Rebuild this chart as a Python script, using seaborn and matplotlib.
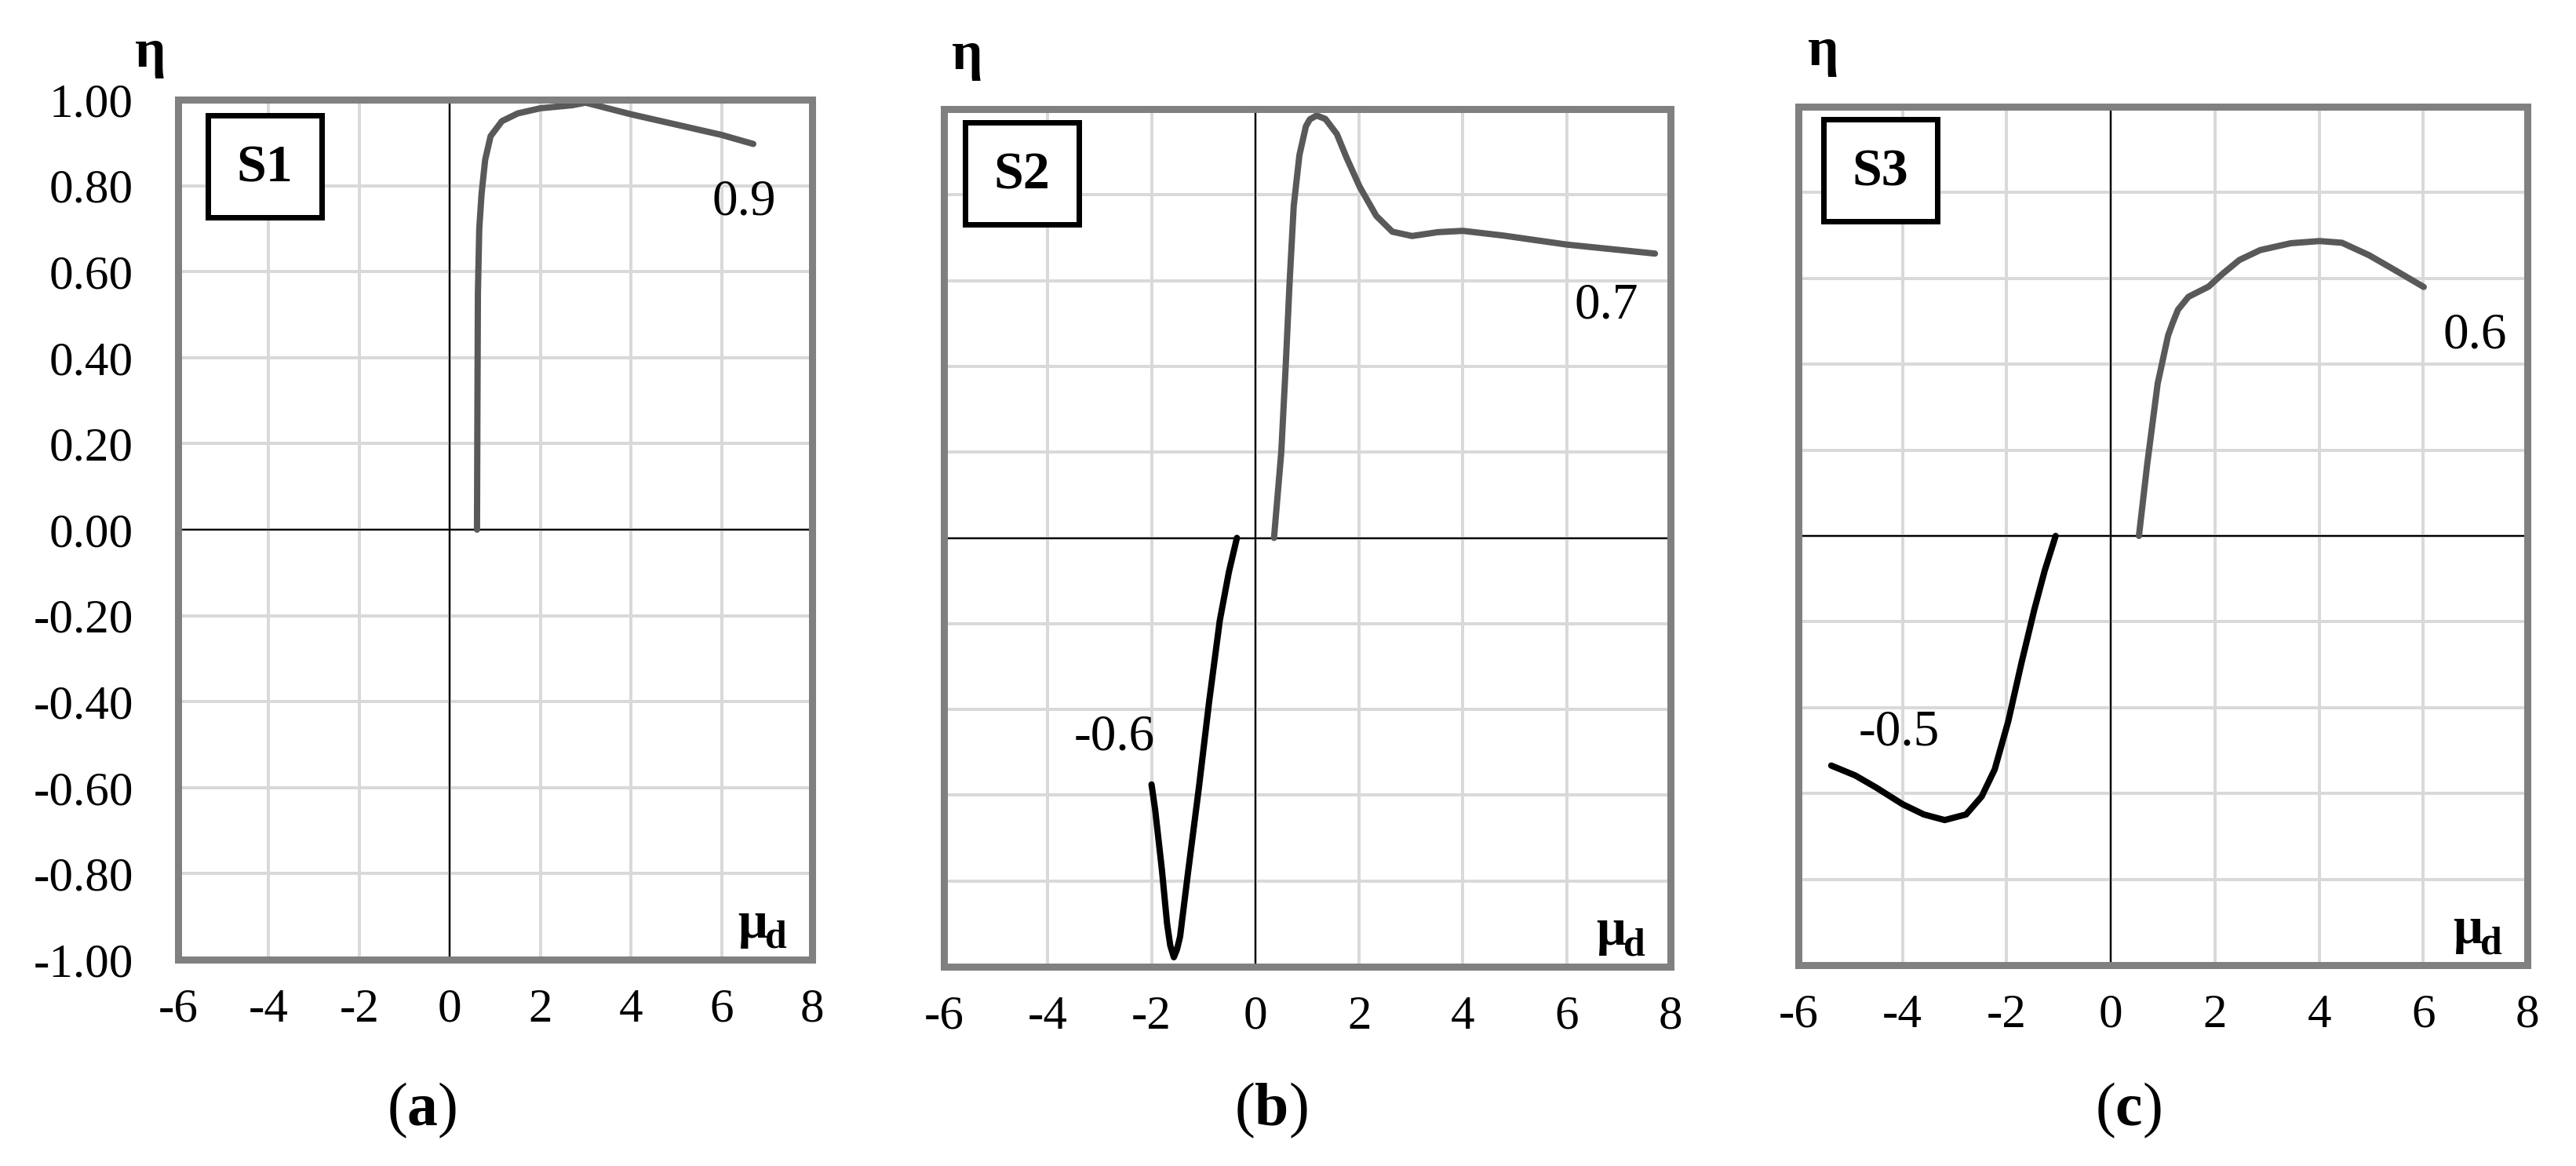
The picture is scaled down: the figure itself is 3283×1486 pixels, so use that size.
import numpy as np
import pandas as pd
import matplotlib
matplotlib.use("Agg")
import matplotlib.pyplot as plt
import seaborn as sns
from matplotlib.patches import Rectangle

# ---------------- data ----------------
a_mu = [0.60, 0.61, 0.62, 0.65, 0.70, 0.78, 0.90, 1.15, 1.50, 2.00, 2.70, 3.00, 4.00, 5.00, 6.00, 6.70]
a_eta = [0.00, 0.30, 0.55, 0.70, 0.78, 0.86, 0.915, 0.950, 0.968, 0.980, 0.987, 0.993, 0.966, 0.942, 0.918, 0.897]

b_pos_mu = [0.36, 0.50, 0.585, 0.66, 0.74, 0.85, 0.975, 1.05, 1.18, 1.35, 1.57, 1.76, 2.01, 2.33, 2.64, 3.02, 3.52, 4.00, 4.78, 6.00, 7.70]
b_pos_eta = [0.00, 0.20, 0.40, 0.595, 0.774, 0.893, 0.960, 0.976, 0.985, 0.977, 0.942, 0.886, 0.819, 0.751, 0.714, 0.704, 0.713, 0.716, 0.705, 0.684, 0.663]
b_neg_mu = [-2.00, -1.93, -1.80, -1.70, -1.64, -1.57, -1.51, -1.45, -1.29, -1.09, -0.89, -0.685, -0.51, -0.355]
b_neg_eta = [-0.575, -0.634, -0.774, -0.900, -0.950, -0.978, -0.960, -0.930, -0.774, -0.585, -0.382, -0.193, -0.080, 0.000]

c_pos_mu = [0.54, 0.70, 0.90, 1.10, 1.19, 1.29, 1.49, 1.88, 2.14, 2.47, 2.87, 3.46, 4.01, 4.44, 4.96, 5.49, 6.01]
c_pos_eta = [0.00, 0.168, 0.355, 0.467, 0.497, 0.527, 0.557, 0.581, 0.610, 0.643, 0.666, 0.682, 0.687, 0.683, 0.654, 0.617, 0.580]
c_neg_mu = [-5.37, -4.91, -4.51, -4.00, -3.59, -3.19, -2.78, -2.48, -2.23, -1.97, -1.72, -1.47, -1.27, -1.06]
c_neg_eta = [-0.535, -0.558, -0.586, -0.625, -0.649, -0.662, -0.649, -0.607, -0.544, -0.432, -0.298, -0.172, -0.081, 0.000]

panel_names = ["S1", "S2", "S3"]
captions = ["a", "b", "c"]
x_ticks = [-6, -4, -2, 0, 2, 4, 6, 8]
y_ticks = [-1.0, -0.8, -0.6, -0.4, -0.2, 0.0, 0.2, 0.4, 0.6, 0.8, 1.0]
y_tick_labels = ["-1.00", "-0.80", "-0.60", "-0.40", "-0.20", "0.00", "0.20", "0.40", "0.60", "0.80", "1.00"]

# value annotations: (text, mu, eta)
a_labels = [("0.9", 6.5, 0.761)]
b_labels = [("0.7", 6.76, 0.541), ("-0.6", -2.72, -0.466)]
c_labels = [("0.6", 7.0, 0.467), ("-0.5", -4.07, -0.458)]

# ---------------- style ----------------
sns.set_theme(style="white")
plt.rcParams["font.family"] = ["Liberation Serif", "DejaVu Serif"]
plt.rcParams["mathtext.fontset"] = "custom"
plt.rcParams["mathtext.rm"] = "Liberation Serif"
plt.rcParams["mathtext.bf"] = "Liberation Serif:bold"
plt.rcParams["axes.unicode_minus"] = False

W, H = 3283, 1486
DPI = 100
PT = 72.0 / DPI  # points per pixel
fig = plt.figure(figsize=(W / DPI, H / DPI), dpi=DPI)

boxes = [(227, 127, 1035, 1223), (1203, 139, 2129, 1232), (2292, 136, 3221, 1230)]
sbox = [(265, 147), (1230, 156), (2324, 152)]
eta_pos = [(192, 85), (1233, 88), (2324, 83)]
cap_pos = [(538, 1415), (1620, 1415), (2712, 1415)]

pos_col = "#595959"
neg_col = "#000000"
curves = [
    [(a_mu, a_eta, pos_col)],
    [(b_pos_mu, b_pos_eta, pos_col), (b_neg_mu, b_neg_eta, neg_col)],
    [(c_pos_mu, c_pos_eta, pos_col), (c_neg_mu, c_neg_eta, neg_col)],
]
labels = [a_labels, b_labels, c_labels]

for i, (l, t, r, b) in enumerate(boxes):
    ax = fig.add_axes([l / W, 1 - b / H, (r - l) / W, (b - t) / H])
    ax.set_xlim(-6, 8)
    ax.set_ylim(-1, 1)
    ax.set_xticks(x_ticks)
    ax.set_yticks(y_ticks)
    ax.set_xticklabels([str(v) for v in x_ticks])
    if i == 0:
        ax.set_yticklabels(y_tick_labels)
    else:
        ax.set_yticklabels([])
    ax.tick_params(axis="both", length=0, labelsize=44, colors="black")
    ax.tick_params(axis="y", pad=41)
    ax.tick_params(axis="x", pad=26)
    ax.grid(True, color="#D9D9D9", lw=4 * PT, zorder=0)
    ax.set_axisbelow(True)
    for sp in ax.spines.values():
        sp.set_visible(True)
        sp.set_color("#808080")
        sp.set_linewidth(9 * PT)
        sp.set_capstyle("projecting")
        sp.set_zorder(5)
    ax.axhline(0, color="black", lw=2.2 * PT, zorder=1)
    ax.axvline(0, color="black", lw=2.2 * PT, zorder=1)

    for mu, eta, col in curves[i]:
        df = pd.DataFrame({"mu": mu, "eta": eta})
        sns.lineplot(data=df, x="mu", y="eta", sort=False, estimator=None,
                     color=col, lw=8 * PT, ax=ax, zorder=3,
                     solid_capstyle="round", solid_joinstyle="round")
    ax.set_xlabel("")
    ax.set_ylabel("")

    for txt, xv, yv in labels[i]:
        ax.text(xv, yv, txt, fontsize=47, ha="center", va="center", color="black", zorder=4)

    # mu_d label at lower right inside the axes
    ax.annotate("μ", xy=(1, 0), xycoords="axes fraction",
                xytext=(-95 * PT, 28 * PT), textcoords="offset points",
                ha="left", va="baseline", fontsize=48, fontweight="bold", color="black")
    ax.annotate("d", xy=(1, 0), xycoords="axes fraction",
                xytext=(-60 * PT, 15 * PT), textcoords="offset points",
                ha="left", va="baseline", fontsize=36, fontweight="bold", color="black")

    # S box
    bx, by = sbox[i]
    bw, bh = 145, 130
    rect = Rectangle((bx / W, 1 - (by + bh) / H), bw / W, bh / H, transform=fig.transFigure,
                     facecolor="white", edgecolor="black", lw=7 * PT, zorder=10)
    fig.add_artist(rect)
    fig.text((bx + bw / 2) / W, 1 - (by + bh / 2 + 3) / H, panel_names[i], fontsize=49,
             fontweight="bold", ha="center", va="center", color="black", zorder=11)

    # eta label
    ex, ey = eta_pos[i]
    fig.text(ex / W, 1 - ey / H, "η", fontsize=50, fontweight="bold",
             ha="center", va="baseline", color="black")

    # caption
    cx, cy = cap_pos[i]
    fig.text(cx / W, 1 - cy / H, "($\\mathbf{%s}$)" % captions[i], fontsize=56,
             ha="center", va="center", color="black")

fig.savefig("out.png", dpi=DPI, facecolor="white")
